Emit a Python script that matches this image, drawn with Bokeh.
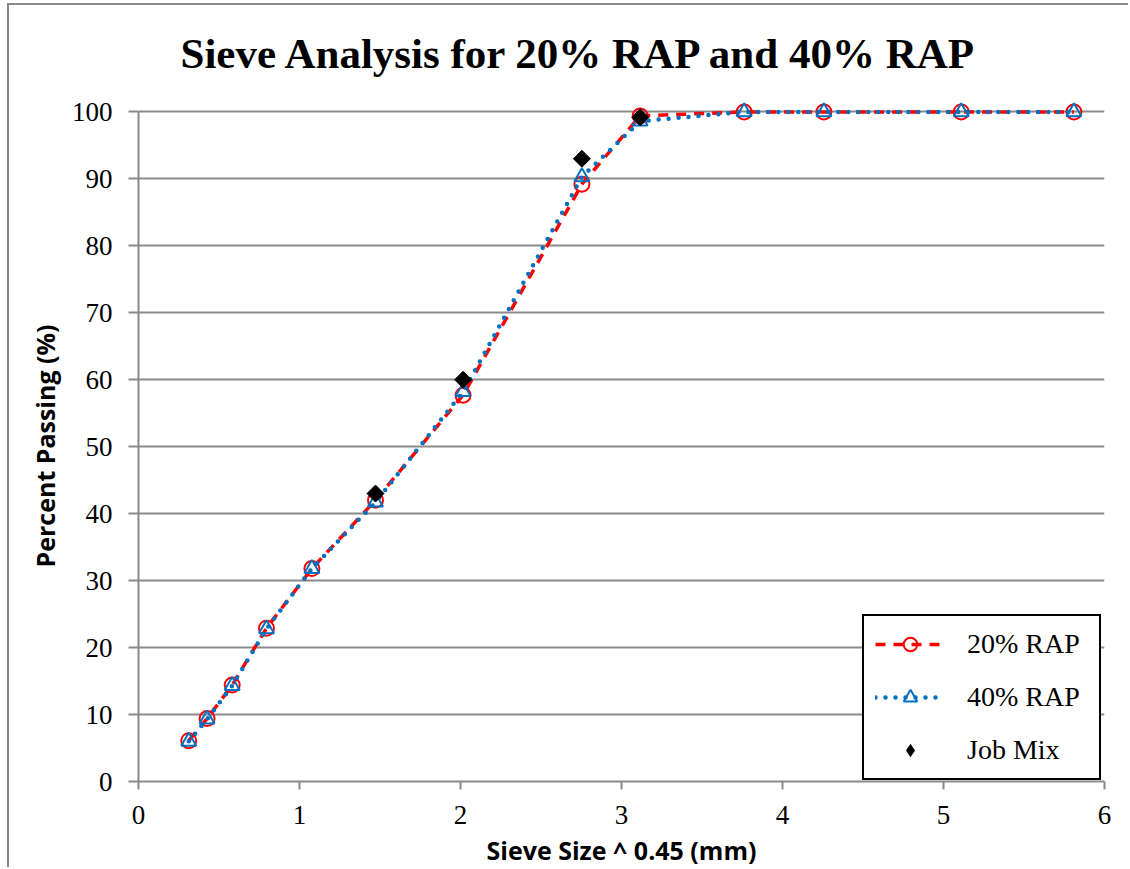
from bokeh.plotting import figure
from bokeh.models import Range1d, FixedTicker, Legend, LegendItem, Title
from bokeh.embed import file_html
from bokeh.resources import INLINE

# Sieve openings raised to the 0.45 power (mm^0.45)
sieve_x = [0.312, 0.426, 0.582, 0.795, 1.077, 1.472, 2.016, 2.754, 3.116, 3.762, 4.257, 5.110, 5.810]

# Percent passing for each blend
rap20 = [6.1, 9.4, 14.4, 22.9, 31.8, 42.0, 57.7, 89.2, 99.4, 100.0, 100.0, 100.0, 100.0]
rap40 = [6.0, 9.3, 14.3, 22.8, 31.8, 41.7, 58.2, 90.3, 98.6, 100.0, 100.0, 100.0, 100.0]

# Job mix formula targets
job_x = [1.472, 2.016, 2.754, 3.116]
job_y = [43.0, 60.0, 93.0, 99.2]

x_ticks = [0, 1, 2, 3, 4, 5, 6]
y_ticks = [0, 10, 20, 30, 40, 50, 60, 70, 80, 90, 100]

RED = "#FF0000"
BLUE = "#0070C0"
GRID = "#8A8A8A"
SERIF = "'Liberation Serif', 'Times New Roman', serif"
SANS = "'Open Sans', sans-serif"

p = figure(
    width=1121, height=864,
    x_range=Range1d(0, 6), y_range=Range1d(0, 102),
    output_backend="svg", toolbar_location=None,
    min_border_left=129, min_border_right=26,
    min_border_top=93, min_border_bottom=88,
    title="Sieve Analysis for 20% RAP and 40% RAP",
)
p.styles = {
    "margin-left": "7px", "margin-top": "3px",
    "border-left": "2px solid #8A8A8A", "border-top": "2px solid #8A8A8A",
}
p.outline_line_color = None
p.background_fill_color = "white"
p.border_fill_color = "white"

# title
p.title.text_font = SERIF
p.title.text_font_size = "43px"
p.title.text_font_style = "bold"
p.title.align = "left"
p.title.offset = 42
p.title.standoff = 43
p.title.text_color = "black"

# grid: horizontal lines only
p.xgrid.grid_line_color = None
p.ygrid.grid_line_color = GRID
p.ygrid.grid_line_width = 2
p.ygrid.ticker = FixedTicker(ticks=y_ticks)

# axes
for ax in (p.xaxis[0], p.yaxis[0]):
    ax.axis_line_color = GRID
    ax.axis_line_width = 2
    ax.major_tick_line_color = GRID
    ax.major_tick_line_width = 2
    ax.minor_tick_line_color = None
    ax.major_tick_in = 0
    ax.major_label_text_font = SERIF
    ax.major_label_text_font_size = "27px"
    ax.major_label_text_color = "black"
    ax.axis_label_text_font = SANS
    ax.axis_label_text_font_size = "25px"
    ax.axis_label_text_font_style = "bold"
    ax.axis_label_text_color = "black"

p.xaxis.ticker = FixedTicker(ticks=x_ticks)
p.yaxis.ticker = FixedTicker(ticks=y_ticks)
p.xaxis.bounds = (0, 6)
p.yaxis.bounds = (0, 100)
p.xaxis.major_tick_out = 8
p.yaxis.major_tick_out = 10
p.xaxis.major_label_standoff = 16
p.yaxis.major_label_standoff = 16
p.xaxis.axis_label = "Sieve Size ^ 0.45 (mm)"
p.xaxis.axis_label_standoff = 6

# y-axis caption, centred on the 0-100 span of the value axis
ylab = Title(
    text="Percent Passing (%)", align="left", offset=214, standoff=14,
    text_font=SANS, text_font_size="25px", text_font_style="bold",
    text_color="black",
)
p.add_layout(ylab, "left")

# 20% RAP: red dashed line with hollow circles
l20 = p.line(sieve_x, rap20, line_color=RED, line_width=3.5, line_dash="10 8")
m20 = p.scatter(sieve_x, rap20, marker="circle", size=15, line_color=RED,
                line_width=2, fill_color=None)

# 40% RAP: blue dotted line with hollow triangles
l40 = p.line(sieve_x, rap40, line_color=BLUE, line_width=4.5, line_dash="0 10",
             line_cap="round")
m40 = p.scatter(sieve_x, rap40, marker="triangle", size=15, line_color=BLUE,
                line_width=2, fill_color=None)

# Job mix: black diamonds (rotated squares)
mj = p.scatter(job_x, job_y, marker="square", size=12, angle=0.785398,
               line_color="black", fill_color="black")
# zero-size diamond series used only as the legend swatch
mj_key = p.scatter(job_x, job_y, marker="diamond", size=0,
                   line_color=None, fill_color="black")

legend = Legend(
    items=[
        LegendItem(label="20% RAP", renderers=[l20, m20]),
        LegendItem(label="40% RAP", renderers=[l40, m40]),
        LegendItem(label="Job Mix", renderers=[mj_key]),
    ],
    location=(724, 1),
    border_line_color="black", border_line_width=2, border_line_alpha=1,
    background_fill_color="white", background_fill_alpha=1,
    label_text_font=SERIF, label_text_font_size="28px", label_text_color="black",
    glyph_width=70, glyph_height=34, label_height=34, label_width=121,
    label_standoff=22, spacing=19, padding=11, margin=0,
)
p.add_layout(legend, "center")

open("out.html", "w").write(file_html(p, INLINE))
